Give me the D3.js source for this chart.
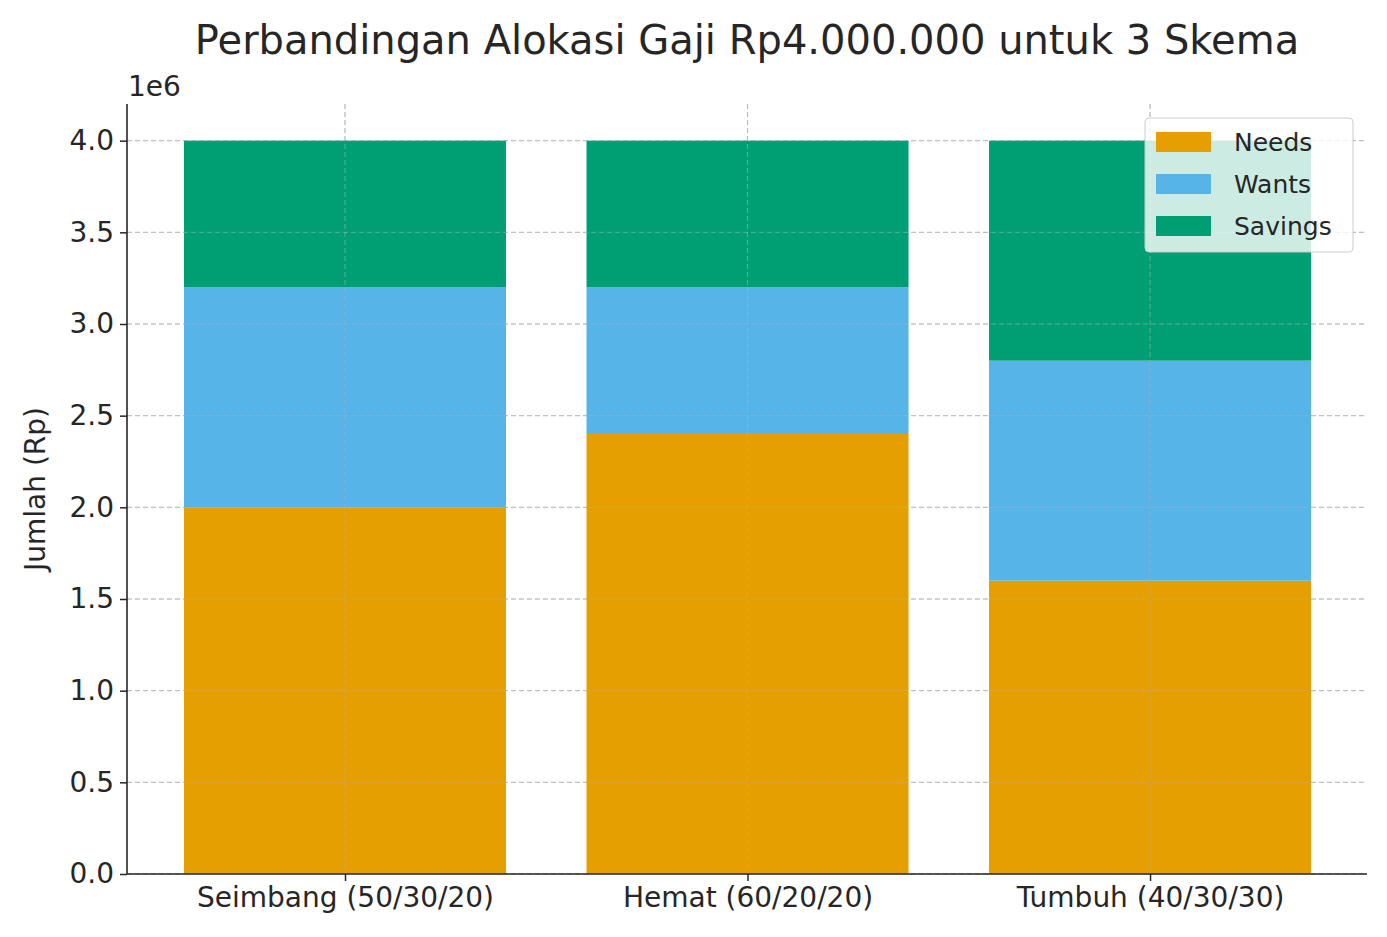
<!DOCTYPE html><html><head><meta charset="utf-8"><script src="https://cdn.jsdelivr.net/npm/d3@7"></script>
<style>body{margin:0;background:#fff}text{font-family:"DejaVu Sans",sans-serif;fill:#262626}</style></head><body>
<svg id="c" width="1387" height="937"></svg>
<script>
const categories=["Seimbang (50/30/20)","Hemat (60/20/20)","Tumbuh (40/30/30)"];
const needs=[2000000,2400000,1600000];
const wants=[1200000,800000,1200000];
const savings=[800000,800000,1200000];
const seriesNames=["Needs","Wants","Savings"];
const colors=["#E69F00","#56B4E9","#009E73"];
const yTicks=[0,0.5,1,1.5,2,2.5,3,3.5,4];
const svg=d3.select("#c");
const L=127,R=1367,T=104,B=874;
const x=d3.scaleLinear().domain([-0.5416,2.539]).range([L,R]);
const y=d3.scaleLinear().domain([0,4.2e6]).range([B,T]);
const bw=x(0.4)-x(-0.4);
const g=svg.append("g");
// grid
yTicks.forEach(t=>g.append("line").attr("x1",L).attr("x2",R).attr("y1",y(t*1e6)).attr("y2",y(t*1e6)).attr("stroke","#b0b0b0").attr("stroke-width",1).attr("stroke-dasharray","5,3").attr("opacity",0.7));
categories.forEach((c,i)=>g.append("line").attr("x1",x(i)).attr("x2",x(i)).attr("y1",T).attr("y2",B).attr("stroke","#b0b0b0").attr("stroke-width",1).attr("stroke-dasharray","5,3").attr("opacity",0.7));
const data=[needs,wants,savings];
const stack=categories.map(()=>0);
const bars=svg.append("g");
data.forEach((s,k)=>{s.forEach((v,i)=>{bars.append("rect").attr("x",x(i)-bw/2).attr("width",bw).attr("y",y(stack[i]+v)).attr("height",y(stack[i])-y(stack[i]+v)).attr("fill",colors[k]);stack[i]+=v;});});
// grid over bars (matplotlib draws grid above? appears visible on bars)
yTicks.forEach(t=>svg.append("line").attr("x1",L).attr("x2",R).attr("y1",y(t*1e6)).attr("y2",y(t*1e6)).attr("stroke","#b0b0b0").attr("stroke-width",1).attr("stroke-dasharray","5,3").attr("opacity",0.6));
categories.forEach((c,i)=>svg.append("line").attr("x1",x(i)).attr("x2",x(i)).attr("y1",T).attr("y2",B).attr("stroke","#b0b0b0").attr("stroke-width",1).attr("stroke-dasharray","5,3").attr("opacity",0.6));
// axes
const ya=svg.append("g").attr("transform",`translate(${L},0)`).call(d3.axisLeft(y).tickValues(yTicks.map(t=>t*1e6)).tickFormat(d=>(d/1e6).toFixed(1)).tickSize(7).tickPadding(6));
const xa=svg.append("g").attr("transform",`translate(0,${B})`).call(d3.axisBottom(x).tickValues([0,1,2]).tickFormat(i=>categories[i]).tickSize(7).tickPadding(6));
[ya,xa].forEach(a=>{a.selectAll("text").style("font-size","28px").attr("fill","#262626");a.selectAll("line").attr("stroke","#262626").attr("stroke-width",1.5);a.select(".domain").remove();});
svg.append("line").attr("x1",L).attr("x2",L).attr("y1",T).attr("y2",B).attr("stroke","#262626").attr("stroke-width",1.6);
svg.append("line").attr("x1",L).attr("x2",R).attr("y1",B).attr("y2",B).attr("stroke","#262626").attr("stroke-width",1.6);
svg.append("text").attr("x",128).attr("y",96).style("font-size","28px").text("1e6");
svg.append("text").attr("transform","translate(45,489) rotate(-90)").attr("text-anchor","middle").style("font-size","28px").text("Jumlah (Rp)");
svg.append("text").attr("x",747).attr("y",54).attr("text-anchor","middle").style("font-size","40px").text("Perbandingan Alokasi Gaji Rp4.000.000 untuk 3 Skema");
// legend
const lg=svg.append("g");
lg.append("rect").attr("x",1145).attr("y",118).attr("width",208).attr("height",134).attr("rx",4).attr("fill","#fff").attr("fill-opacity",0.8).attr("stroke","#ccc");
seriesNames.forEach((n,k)=>{const yy=142+k*42;lg.append("rect").attr("x",1156).attr("y",yy-10).attr("width",55).attr("height",20).attr("fill",colors[k]);lg.append("text").attr("x",1234).attr("y",yy+9).style("font-size","25px").text(n);});
</script></body></html>
